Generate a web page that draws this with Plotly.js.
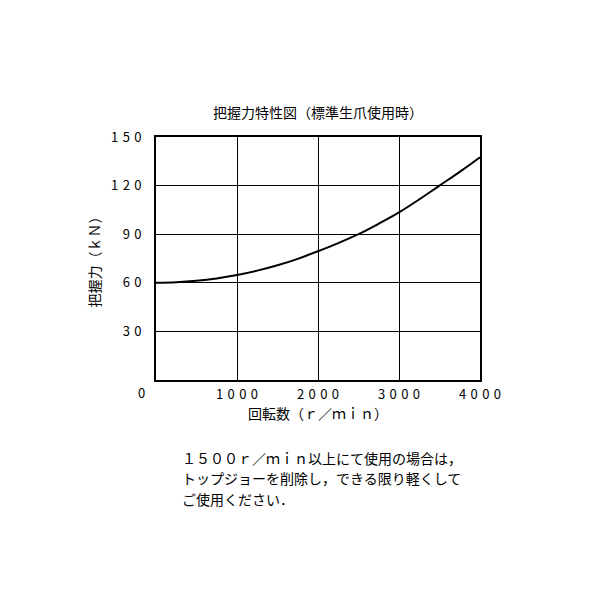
<!DOCTYPE html>
<html>
<head>
<meta charset="utf-8">
<script src="https://cdn.plot.ly/plotly-3.0.1.min.js"></script>
<style>html,body{margin:0;padding:0;background:#fff}#chart{width:600px;height:600px}</style>
</head>
<body>
<div id="chart"></div>
<script>
const speed = [0, 250, 500, 750, 1000, 1250, 1500, 1750, 2000, 2250, 2500, 2750, 3000, 3250, 3500, 3750, 4000];
const force = [60, 60.3, 61.2, 62.7, 64.8, 67.5, 70.8, 74.8, 79.5, 84.5, 90, 96.5, 103.5, 111.5, 120, 128.5, 137.5];
const xTickVals = [1000, 2000, 3000, 4000];
const xTickText = ['1\u20040\u20040\u20040', '2\u20040\u20040\u20040', '3\u20040\u20040\u20040', '4\u20040\u20040\u20040'];
const yTickVals = [30, 60, 90, 120, 150];
const yTickText = ['3\u20040', '6\u20040', '9\u20040', '1\u20042\u20040', '1\u20045\u20040'];
const titleText = '把握力特性図（標準生爪使用時）';
const xTitle = '回転数（ｒ／ｍｉｎ）';
const yTitle = '把握力（ｋＮ）';
const noteLines = ['１５００ｒ／ｍｉｎ以上にて使用の場合は，', 'トップジョーを削除し，できる限り軽くして', 'ご使用ください．'];

const font = 'Noto Sans CJK JP, sans-serif';
const noteY = [-0.321, -0.405, -0.490];

const annotations = [
  {text: '0', xref: 'paper', yref: 'paper', x: -0.046, y: -0.053, xanchor: 'center', yanchor: 'middle', showarrow: false, font: {family: font, size: 13, color: '#000'}}
];
noteLines.forEach((t, i) => annotations.push({
  text: t, xref: 'paper', yref: 'paper', x: 0.074, y: noteY[i], xanchor: 'left', yanchor: 'middle',
  align: 'left', showarrow: false, font: {family: font, size: 14, color: '#000'}
}));

Plotly.newPlot('chart', [{
  x: speed, y: force, type: 'scatter', mode: 'lines',
  line: {color: '#000', width: 2, shape: 'spline'},
  hoverinfo: 'skip'
}], {
  width: 600, height: 600,
  margin: {l: 156, r: 120, t: 137, b: 220},
  paper_bgcolor: '#fff', plot_bgcolor: '#fff',
  showlegend: false,
  font: {family: font, color: '#000', size: 13},
  title: {text: titleText, x: 0.53, xanchor: 'center', y: 0.812, yanchor: 'middle', font: {family: font, size: 14, color: '#000'}},
  xaxis: {
    range: [0, 4000], tickvals: xTickVals, ticktext: xTickText,
    showgrid: true, gridcolor: '#000', gridwidth: 1,
    showline: true, linecolor: '#000', linewidth: 2, mirror: true,
    zeroline: false, ticks: 'outside', ticklen: 1, tickcolor: 'rgba(0,0,0,0)',
    tickfont: {family: font, size: 13, color: '#000'},
    title: {text: xTitle, standoff: 6, font: {family: font, size: 14, color: '#000'}}
  },
  yaxis: {
    range: [0, 150], tickvals: yTickVals, ticktext: yTickText,
    showgrid: true, gridcolor: '#000', gridwidth: 1,
    showline: true, linecolor: '#000', linewidth: 2, mirror: true,
    zeroline: false, ticks: 'outside', ticklen: 10, tickcolor: 'rgba(0,0,0,0)',
    tickfont: {family: font, size: 13, color: '#000'},
    title: {text: yTitle, standoff: 7, font: {family: font, size: 14, color: '#000'}}
  },
  annotations: annotations
}, {staticPlot: true});
</script>
</body>
</html>
